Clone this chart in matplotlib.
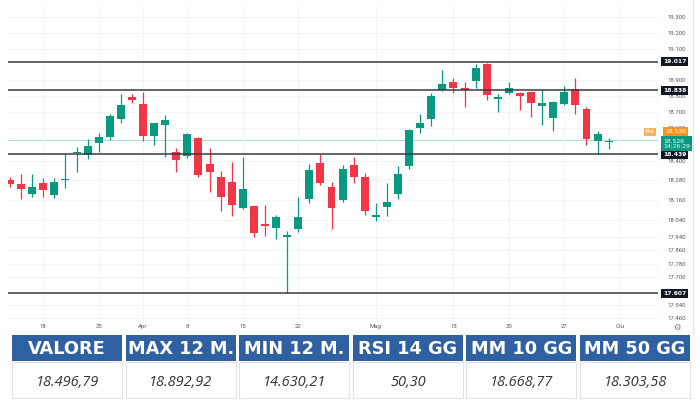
import matplotlib.pyplot as plt
from matplotlib.patches import Rectangle
from matplotlib.ticker import NullLocator

# candele giornaliere, indice 0 = 13 marzo
apertura = [18283, 18259, 18198, 18267, 18192, 18285, 18446, 18436, 18512, 18548,
            18656, 18797, 18750, 18553, 18621, 18456, 18430, 18539, 18379, 18303,
            18273, 18112, 18126, 18015, 17991, 17941, 17987, 18165, 18385, 18238,
            18162, 18375, 18300, 18057, 18121, 18196, 18371, 18600, 18656, 18839,
            18887, 18853, 18897, 19000, 18783, 18818, 18822, 18828, 18739, 18662,
            18750, 18845, 18720, 18522, 18514]
massimo = [18302, 18320, 18320, 18296, 18296, 18442, 18487, 18533, 18569, 18687,
           18814, 18814, 18828, 18631, 18683, 18477, 18573, 18545, 18477, 18340,
           18395, 18426, 18128, 18129, 18071, 17975, 18182, 18378, 18442, 18273,
           18376, 18421, 18324, 18146, 18263, 18370, 18596, 18687, 18822, 18965,
           18912, 18887, 19001, 19010, 18812, 18891, 18824, 18830, 18839, 18770,
           18866, 18916, 18735, 18583, 18542]
minimo = [18241, 18168, 18182, 18182, 18172, 18233, 18334, 18410, 18456, 18528,
          18631, 18760, 18522, 18498, 18426, 18334, 18416, 18300, 18212, 18097,
          18065, 18106, 17940, 17946, 17926, 17607, 17971, 18144, 18253, 17988,
          18152, 18263, 18071, 18035, 18065, 18166, 18350, 18569, 18616, 18832,
          18818, 18735, 18853, 18777, 18703, 18812, 18714, 18672, 18621, 18583,
          18745, 18687, 18498, 18440, 18471]
chiusura = [18259, 18227, 18239, 18222, 18273, 18291, 18454, 18491, 18548, 18676,
            18743, 18777, 18553, 18631, 18652, 18405, 18563, 18314, 18332, 18178,
            18132, 18227, 17965, 18007, 18061, 17950, 18061, 18344, 18263, 18111,
            18349, 18303, 18095, 18070, 18152, 18319, 18590, 18631, 18801, 18875,
            18849, 18839, 18979, 18808, 18793, 18849, 18801, 18756, 18756, 18762,
            18824, 18745, 18534, 18563, 18522]

livelli = [19017, 18838, 18439, 17607]
ultimo = 18526
pre = 18536
countdown = '14:26:29'

y_ticks = [19300, 19200, 19100, 18900, 18800, 18700, 18600, 18400, 18280,
           18160, 18040, 17940, 17860, 17780, 17700, 17540, 17460]
x_pos = [3, 8, 12, 16, 21, 26, 33, 40, 45, 50, 55]
x_lab = ['18', '25', 'Apr', '8', '15', '22', 'Mag', '13', '20', '27', 'Giu']

intestazioni = ['VALORE', 'MAX 12 M.', 'MIN 12 M.', 'RSI 14 GG', 'MM 10 GG', 'MM 50 GG']
valori = ['18.496,79', '18.892,92', '14.630,21', '50,30', '18.668,77', '18.303,58']

verde = '#089981'
rosso = '#f23645'


def fmt(v):
    return '{:,}'.format(v).replace(',', '.')


fig = plt.figure(figsize=(7, 4), dpi=100)

ax = fig.add_axes([8/700, 79/400, 650/700, 316/400])
ax.set_yscale('log')

x = list(range(len(chiusura)))
colori = [verde if c >= o else rosso for o, c in zip(apertura, chiusura)]
basi = [min(o, c) for o, c in zip(apertura, chiusura)]
altezze = [max(abs(c - o), 3) for o, c in zip(apertura, chiusura)]

ax.vlines(x, minimo, massimo, colors=colori, lw=0.9, zorder=2)
ax.bar(x, altezze, bottom=basi, width=0.72, color=colori, zorder=3)

# linee di supporto / resistenza
for v in livelli:
    ax.axhline(v, color='#3a3a3a', lw=1.1, zorder=4)
    ax.annotate(fmt(v), xy=(1, v), xycoords=ax.get_yaxis_transform(),
                xytext=(3.5, 0), textcoords='offset points', ha='left', va='center',
                fontsize=4.3, fontweight='bold', color='white', annotation_clip=False,
                bbox=dict(boxstyle='square,pad=0.35', fc='#131722', ec='none'), zorder=6)

ax.axhline(ultimo, color='#a8dcd3', lw=0.7, zorder=1)

ax.annotate('Pre', xy=(1, pre), xycoords=ax.get_yaxis_transform(),
            xytext=(-9, 5), textcoords='offset points', ha='left', va='center',
            fontsize=4.0, color='white', annotation_clip=False,
            bbox=dict(boxstyle='square,pad=0.3', fc='#f9b45a', ec='none'), zorder=6)
ax.annotate(fmt(pre), xy=(1, pre), xycoords=ax.get_yaxis_transform(),
            xytext=(5, 5), textcoords='offset points', ha='left', va='center',
            fontsize=4.3, color='white', annotation_clip=False,
            bbox=dict(boxstyle='square,pad=0.35', fc='#f7931e', ec='none'), zorder=6)
ax.annotate(fmt(ultimo) + '\n' + countdown, xy=(1, ultimo), xycoords=ax.get_yaxis_transform(),
            xytext=(3.5, -2.5), textcoords='offset points', ha='left', va='center',
            fontsize=4.3, color='white', linespacing=1.1, annotation_clip=False,
            bbox=dict(boxstyle='square,pad=0.35', fc=verde, ec='none'), zorder=6)

ax.set_xlim(-0.18, 58.45)
ax.set_ylim(17445, 19379)
ax.yaxis.tick_right()
ax.set_yticks(y_ticks, [fmt(v) for v in y_ticks])
ax.yaxis.set_minor_locator(NullLocator())
ax.set_xticks(x_pos, x_lab)
ax.tick_params(axis='y', length=0, pad=7, labelsize=4.3, labelcolor='#555555')
ax.tick_params(axis='x', length=0, pad=2.5, labelsize=4.3, labelcolor='#555555')
for t in ax.get_yticklabels() + ax.get_xticklabels():
    t.set_fontfamily('Roboto')
ax.grid(color='#f1f2f6', lw=0.6, zorder=0)
for s in ax.spines.values():
    s.set_visible(False)

# tabella in coordinate pixel
tab = fig.add_axes([0, 0, 1, 1])
tab.set_xlim(0, 700)
tab.set_ylim(400, 0)
tab.axis('off')
tab.patch.set_alpha(0)

tab.plot([693, 693], [0, 333], color='#e0e3eb', lw=0.8)
tab.text(677, 327, '\u2699', ha='center', va='center', fontsize=6, color='#777777')

for k, (h, v) in enumerate(zip(intestazioni, valori)):
    x0 = 12 + k * 113.6
    tab.add_patch(Rectangle((x0, 335), 110, 26, fc='#2f61a2', ec='none'))
    tab.add_patch(Rectangle((x0, 362), 110, 36, fc='white', ec='#e2e2e2', lw=0.8))
    tab.text(x0 + 55, 348.5, h, ha='center', va='center', color='white',
             fontsize=12.8, fontweight='bold', family='DejaVu Sans')
    tab.text(x0 + 55, 382, v, ha='center', va='center', color='#333333',
             fontsize=10.5, style='italic', family='Open Sans')

fig.savefig('out.png', dpi=100)
